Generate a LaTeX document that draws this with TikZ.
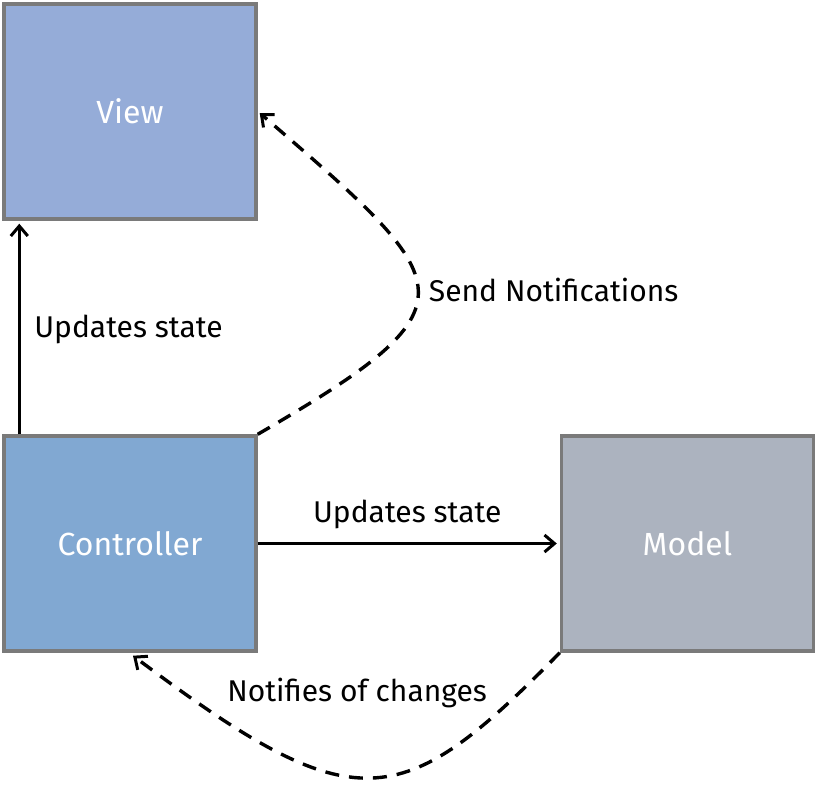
\documentclass[tikz,border=0pt]{standalone}
\usepackage{fontspec}
\setmainfont{Fira Sans}
\usetikzlibrary{arrows.meta, calc, positioning}
\definecolor{viewblue}{HTML}{95ACD8}
\definecolor{ctrlblue}{HTML}{81A8D2}
\definecolor{modelgray}{HTML}{ACB3BF}
\definecolor{edgegray}{HTML}{7A7A7A}
\tikzset{
  part/.style={draw=edgegray, line width=3.4pt, inner sep=0pt,
    minimum width=252pt, minimum height=215pt, text=white, font=\fontsize{32}{38}\selectfont},
  flow/.style={line width=3.4pt, -{Straight Barb[length=10pt, width=17pt, line width=3pt]}},
  notice/.style={flow, dash pattern=on 14pt off 10pt},
  tag/.style={font=\fontsize{30}{36}\selectfont}
}
\begin{document}
\begin{tikzpicture}[x=1pt, y=-1pt]
    \useasboundingbox (0,0) rectangle (818,796);

    % the three parts
    \node[part, fill=viewblue] (view) at (130,111.5) {View};
    \node[part, fill=ctrlblue] (controller) at (130,543.5) {Controller};
    \node[part, fill=modelgray] (model) at (687.5,543.5) {Model};

    % solid arrows
    \draw[flow] ($(controller.north west)+(17,0)$) -- ($(view.south west)+(17,3)$)
        node[midway, right=10pt, tag] {Updates state};
    \draw[flow] (controller.east) -- ($(model.west)+(-3,0)$)
        node[midway, above=10pt, tag] {Updates state};

    % dashed arrows
    \draw[notice] (controller.north east) .. controls (482,304) and (460,286) .. ($(view.east)+(2,1.5)$)
        node[pos=0.5, right=6pt, tag] {Send Notifications};
    \draw[notice] (model.south west) .. controls (400,815) and (356,823) .. ($(controller.south)+(3,3)$)
        node[pos=0.5, above=65pt, xshift=-13pt, tag] {Notifies of changes};
\end{tikzpicture}
\end{document}
